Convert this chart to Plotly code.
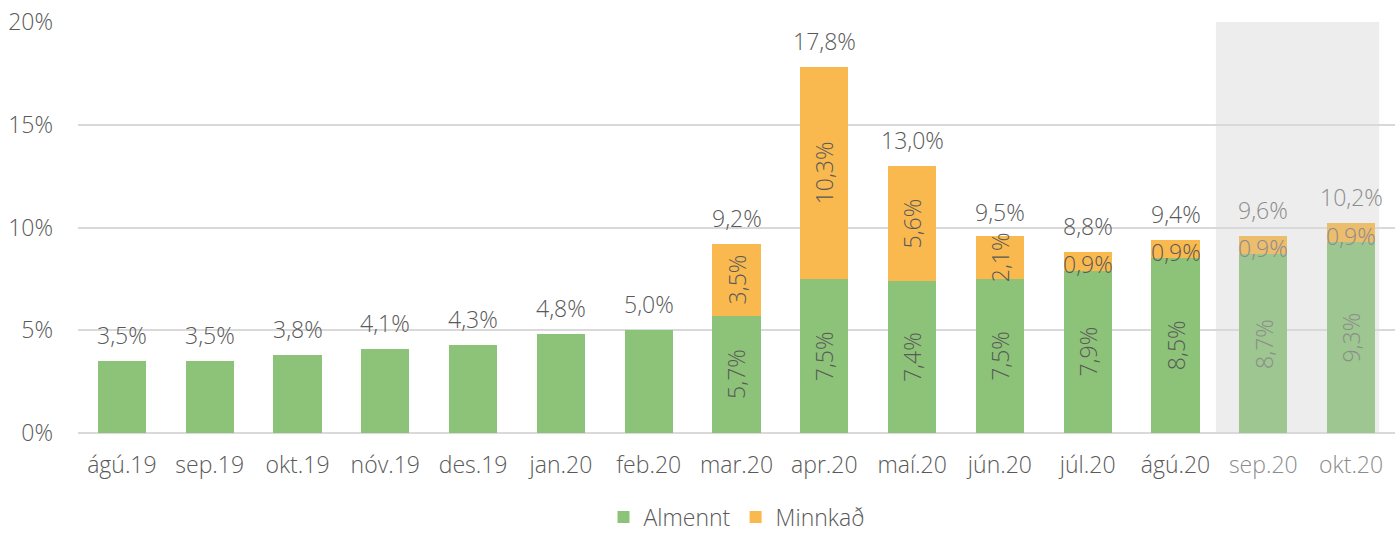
import plotly.graph_objects as go

months = ["ágú.19", "sep.19", "okt.19", "nóv.19", "des.19", "jan.20", "feb.20",
          "mar.20", "apr.20", "maí.20", "jún.20", "júl.20", "ágú.20", "sep.20", "okt.20"]
almennt = [3.5, 3.5, 3.8, 4.1, 4.3, 4.8, 5.0, 5.7, 7.5, 7.4, 7.5, 7.9, 8.5, 8.7, 9.3]
minnkad = [0, 0, 0, 0, 0, 0, 0, 3.5, 10.3, 5.6, 2.1, 0.9, 0.9, 0.9, 0.9]
totals = [3.5, 3.5, 3.8, 4.1, 4.3, 4.8, 5.0, 9.2, 17.8, 13.0, 9.5, 8.8, 9.4, 9.6, 10.2]
forecast = ["sep.20", "okt.20"]
y_ticks = [0, 5, 10, 15, 20]

GREEN, GREEN_F = "#8DC378", "#9DC690"
ORANGE, ORANGE_F = "#FAB94E", "#EDBD6E"
TXT, TXT_F = "#595959", "#8C8C8C"
FONT = "Open Sans"
FS = 23

def fmt(v):
    return f"{v:.1f}".replace(".", ",") + "%"

isf = [m in forecast for m in months]

fig = go.Figure()
fig.add_trace(go.Bar(name="Almennt", x=months, y=almennt,
                     marker=dict(color=[GREEN_F if f else GREEN for f in isf], line_width=0)))
fig.add_trace(go.Bar(name="Minnkað", x=months, y=minnkad,
                     marker=dict(color=[ORANGE_F if f else ORANGE for f in isf], line_width=0)))

# forecast shading
fidx = [i for i, f in enumerate(isf) if f]
fig.add_shape(type="rect", xref="x", yref="y", x0=fidx[0] - 0.54, x1=fidx[-1] + 0.32,
              y0=-3.0, y1=20, fillcolor="#EDEDED", line_width=0, layer="below")

def fnt(c):
    return dict(size=FS, color=c, family=FONT, weight=300)

ann = []
for i, m in enumerate(months):
    c = TXT_F if isf[i] else TXT
    ann.append(dict(x=m, y=totals[i], text=fmt(totals[i]), showarrow=False,
                    yanchor="bottom", yshift=8, font=fnt(c)))
    if minnkad[i] > 0:
        ann.append(dict(x=m, y=almennt[i] / 2, text=fmt(almennt[i]), showarrow=False,
                        textangle=-90, font=fnt(c)))
        big = minnkad[i] > 1.5
        ann.append(dict(x=m, y=almennt[i] + minnkad[i] / 2, text=fmt(minnkad[i]), showarrow=False,
                        textangle=-90 if big else 0, yshift=0 if big else -3,
                        font=fnt(c)))

ticktext = [f"<span style='color:{TXT_F if f else TXT}'>{m}</span>" for m, f in zip(months, isf)]

fig.update_layout(
    width=1399, height=533,
    margin=dict(l=78, r=4, t=22, b=100, autoexpand=False),
    barmode="stack", bargap=0.45,
    plot_bgcolor="white", paper_bgcolor="white",
    font=dict(family=FONT, size=FS, color=TXT, weight=300),
    annotations=ann,
    showlegend=True,
    legend=dict(orientation="h", x=0.5, xanchor="center", xref="paper",
                y=0.03, yref="container", yanchor="middle",
                font=dict(size=FS, color=TXT, family=FONT, weight=300),
                itemwidth=30, traceorder="normal"),
    xaxis=dict(type="category", tickvals=months, ticktext=ticktext, showgrid=False,
               tickfont=dict(size=FS, family=FONT, weight=300), ticks="", showline=False,
               ticklabelstandoff=16, automargin=False),
    yaxis=dict(range=[0, 20], tickvals=y_ticks, ticktext=[f"{v}%" for v in y_ticks],
               showgrid=True, gridcolor="#D9D9D9", gridwidth=2, zeroline=True,
               zerolinecolor="#D9D9D9", zerolinewidth=2,
               tickfont=dict(size=FS, family=FONT, weight=300),
               ticks="", ticklabelstandoff=24, automargin=False),
)
fig.write_html("out.html", config={"displayModeBar": False},
               post_script="document.body.style.margin='0';document.body.style.overflow='hidden';")
